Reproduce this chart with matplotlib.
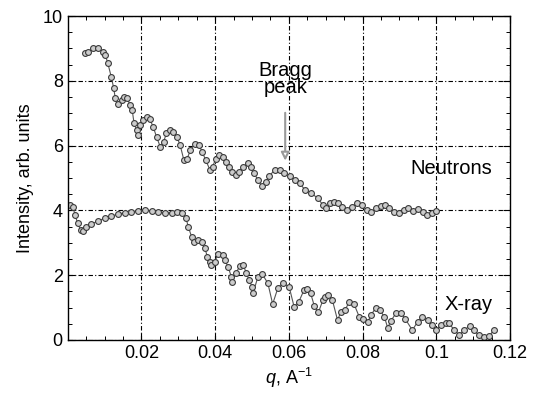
import numpy as np
import matplotlib
matplotlib.use("Agg")
import matplotlib.pyplot as plt
from matplotlib.ticker import MultipleLocator

plt.rcParams['font.family'] = ['Liberation Sans', 'DejaVu Sans']
plt.rcParams['mathtext.fontset'] = 'custom'
plt.rcParams['mathtext.it'] = 'Liberation Sans:italic'
plt.rcParams['mathtext.rm'] = 'Liberation Sans'

# neutron reflectivity curve
q_neutron = [0.0046, 0.0055, 0.0068, 0.0082, 0.0096, 0.0102, 0.0109, 0.0118, 0.0125, 0.0129,
             0.0137, 0.0146, 0.0153, 0.0162, 0.0169, 0.0175, 0.0180, 0.0187, 0.0191, 0.0196,
             0.0205, 0.0214, 0.0223, 0.0232, 0.0241, 0.0251, 0.0260, 0.0268, 0.0278, 0.0287,
             0.0296, 0.0305, 0.0315, 0.0324, 0.0333, 0.0344, 0.0356, 0.0365, 0.0374, 0.0386,
             0.0393, 0.0402, 0.0411, 0.0420, 0.0429, 0.0438, 0.0447, 0.0456, 0.0465, 0.0475,
             0.0488, 0.0497, 0.0506, 0.0516, 0.0527, 0.0538, 0.0547, 0.0561, 0.0575, 0.0588,
             0.0602, 0.0616, 0.0629, 0.0644, 0.0661, 0.0679, 0.0692, 0.0701, 0.0712, 0.0723,
             0.0734, 0.0745, 0.0758, 0.0771, 0.0784, 0.0797, 0.0811, 0.0824, 0.0837, 0.0850,
             0.0861, 0.0872, 0.0885, 0.0898, 0.0911, 0.0924, 0.0937, 0.0950, 0.0963, 0.0975,
             0.0988, 0.1000]
i_neutron = [8.85, 8.90, 9.00, 9.00, 8.90, 8.80, 8.54, 8.13, 7.77, 7.46,
             7.28, 7.40, 7.50, 7.46, 7.25, 7.10, 6.69, 6.48, 6.33, 6.64,
             6.79, 6.87, 6.81, 6.58, 6.27, 5.97, 6.12, 6.38, 6.48, 6.43,
             6.27, 6.02, 5.56, 5.60, 5.86, 6.05, 6.02, 5.81, 5.56, 5.25,
             5.35, 5.60, 5.72, 5.66, 5.50, 5.35, 5.20, 5.09, 5.20, 5.35,
             5.45, 5.35, 5.14, 4.94, 4.75, 4.89, 5.06, 5.25, 5.25, 5.14,
             5.06, 4.94, 4.84, 4.63, 4.53, 4.37, 4.17, 4.06, 4.22, 4.27,
             4.24, 4.11, 4.01, 4.11, 4.22, 4.17, 4.01, 3.96, 4.06, 4.14,
             4.17, 4.06, 3.96, 3.93, 4.01, 4.06, 3.99, 4.05, 3.95, 3.85,
             3.92, 3.97]

# x-ray reflectivity curve
q_xray = [0.0005, 0.0014, 0.0020, 0.0027, 0.0035, 0.0041, 0.0050, 0.0064, 0.0082, 0.0100,
          0.0118, 0.0137, 0.0155, 0.0173, 0.0191, 0.0210, 0.0228, 0.0246, 0.0264, 0.0282,
          0.0296, 0.0310, 0.0321, 0.0327, 0.0336, 0.0343, 0.0354, 0.0363, 0.0372, 0.0379,
          0.0385, 0.0390, 0.0399, 0.0408, 0.0420, 0.0426, 0.0435, 0.0444, 0.0447, 0.0456,
          0.0467, 0.0476, 0.0485, 0.0492, 0.0501, 0.0503, 0.0516, 0.0528, 0.0543, 0.0556,
          0.0570, 0.0583, 0.0601, 0.0614, 0.0627, 0.0641, 0.0650, 0.0659, 0.0669, 0.0680,
          0.0692, 0.0698, 0.0707, 0.0718, 0.0732, 0.0741, 0.0753, 0.0764, 0.0777, 0.0791,
          0.0800, 0.0814, 0.0823, 0.0836, 0.0847, 0.0859, 0.0868, 0.0877, 0.0890, 0.0904,
          0.0915, 0.0935, 0.0949, 0.0962, 0.0976, 0.0989, 0.0998, 0.1012, 0.1025, 0.1034,
          0.1048, 0.1062, 0.1075, 0.1090, 0.1102, 0.1115, 0.1129, 0.1143, 0.1156]
i_xray = [4.17, 4.11, 3.86, 3.60, 3.40, 3.37, 3.48, 3.58, 3.67, 3.76,
          3.83, 3.88, 3.93, 3.96, 3.99, 4.01, 3.98, 3.96, 3.93, 3.93,
          3.96, 3.91, 3.76, 3.50, 3.19, 3.03, 3.09, 3.03, 2.83, 2.57,
          2.42, 2.32, 2.42, 2.66, 2.63, 2.47, 2.26, 1.95, 1.80, 2.06,
          2.28, 2.31, 2.06, 1.85, 1.63, 1.45, 1.95, 2.03, 1.75, 1.11,
          1.60, 1.77, 1.63, 1.03, 1.18, 1.54, 1.56, 1.44, 1.05, 0.85,
          1.22, 1.33, 1.38, 1.23, 0.61, 0.87, 0.94, 1.18, 1.10, 0.71,
          0.66, 0.56, 0.77, 1.00, 0.92, 0.71, 0.38, 0.59, 0.82, 0.84,
          0.66, 0.30, 0.56, 0.71, 0.61, 0.46, 0.30, 0.46, 0.53, 0.51,
          0.32, 0.15, 0.30, 0.43, 0.30, 0.15, 0.08, 0.12, 0.30]

fig, ax = plt.subplots(figsize=(5.33, 3.93), dpi=100)
fig.subplots_adjust(left=0.127, right=0.957, top=0.959, bottom=0.135)

style = dict(marker='o', ms=4.2, mfc='#cccccc', mec='#3a3a3a', mew=0.8,
             color='#555555', lw=0.8)
ax.plot(q_neutron, i_neutron, **style)
ax.plot(q_xray, i_xray, **style)

ax.set_xlim(0, 0.12)
ax.set_ylim(0, 10)
ax.set_xticks([0.02, 0.04, 0.06, 0.08, 0.1, 0.12])
ax.set_xticklabels(['0.02', '0.04', '0.06', '0.08', '0.1', '0.12'])
ax.set_yticks([0, 2, 4, 6, 8, 10])
ax.xaxis.set_minor_locator(MultipleLocator(0.005))
ax.yaxis.set_minor_locator(MultipleLocator(0.5))
ax.tick_params(which='both', direction='in', top=True, right=True, labelsize=13)
ax.tick_params(which='major', length=5, width=0.8)
ax.tick_params(which='minor', length=3, width=0.7)
ax.grid(True, which='major', color='black', linestyle=(0, (4, 2, 1, 2)), lw=0.8)

ax.set_xlabel(r'$q$, A$^{\mathrm{-1}}$', fontsize=13, labelpad=3)
ax.set_ylabel('Intensity, arb. units', fontsize=13, labelpad=6)

ax.annotate('', xy=(0.059, 5.45), xytext=(0.059, 7.1),
            arrowprops=dict(arrowstyle='-|>', color='#999999', lw=1.5,
                            mutation_scale=12, fc='white'))
ax.text(0.059, 8.16, 'Bragg', ha='center', va='baseline', fontsize=14.5)
ax.text(0.059, 7.62, 'peak', ha='center', va='baseline', fontsize=14.5)
ax.text(0.104, 5.11, 'Neutrons', ha='center', va='baseline', fontsize=14.5)
ax.text(0.1087, 0.92, 'X-ray', ha='center', va='baseline', fontsize=14.5)

for s in ax.spines.values():
    s.set_linewidth(1.0)

fig.savefig('out.png', dpi=100)
